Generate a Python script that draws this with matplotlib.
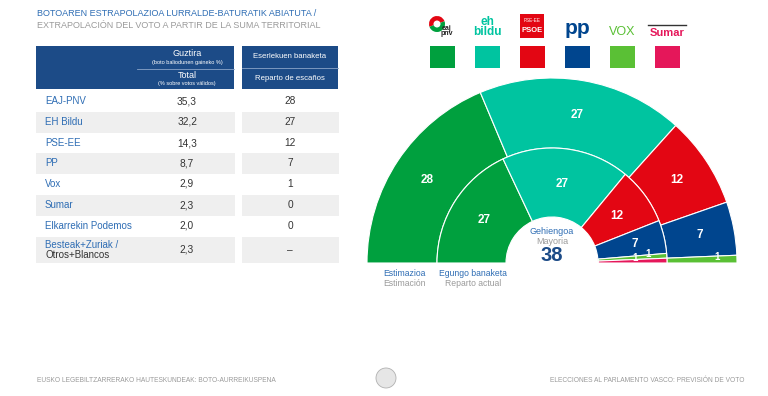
import numpy as np
import matplotlib.pyplot as plt
from matplotlib.patches import Wedge, Rectangle, Circle

plt.rcParams['font.family'] = ['Liberation Sans', 'DejaVu Sans']

# datos de la tabla
partidos = ['EAJ-PNV', 'EH Bildu', 'PSE-EE', 'PP', 'Vox', 'Sumar',
            'Elkarrekin Podemos', 'Besteak+Zuriak /']
votos = ['35,3', '32,2', '14,3', '8,7', '2,9', '2,3', '2,0', '2,3']
escanos_tabla = ['28', '27', '12', '7', '1', '0', '0', '–']

# hemiciclo: estimación (anillo exterior) y reparto actual (anillo interior)
grupos = ['EAJ-PNV', 'EH Bildu', 'PSE-EE', 'PP', 'Vox', 'Sumar']
colores = ['#00a03e', '#00c4a0', '#e30613', '#00458e', '#5ac035', '#e5175a']
estimacion = [28, 27, 12, 7, 1, 0]
actual = [27, 27, 12, 7, 1, 1]
mayoria = 38

AZUL = '#2e6db4'
AZUL_OSC = '#1c4b87'
GRIS = '#9a9a9a'
TXT = '#333333'
H = 396

fig = plt.figure(figsize=(7.68, 3.96), dpi=100)
ax = fig.add_axes([0, 0, 1, 1])
ax.set_xlim(0, 768)
ax.set_ylim(0, H)
ax.axis('off')


def Y(y):  # pasar de coordenadas de pixel (arriba=0) al eje
    return H - y


# titulo
ax.text(37, Y(13), 'BOTOAREN ESTRAPOLAZIOA LURRALDE-BATURATIK ABIATUTA /',
        color=AZUL, fontsize=6.5, va='center')
ax.text(37, Y(25), 'EXTRAPOLACIÓN DEL VOTO A PARTIR DE LA SUMA TERRITORIAL',
        color=GRIS, fontsize=6.5, va='center')

# cabecera de la tabla
ax.add_patch(Rectangle((36, Y(89)), 198, 43, color=AZUL_OSC, lw=0))
ax.add_patch(Rectangle((242, Y(89)), 96, 43, color=AZUL_OSC, lw=0))
ax.plot([137, 234], [Y(69), Y(69)], color='#8aa4c8', lw=0.6)
ax.plot([242, 338], [Y(68), Y(68)], color='#8aa4c8', lw=0.6)
ax.text(187, Y(53), 'Guztira', color='white', fontsize=6.5, ha='center', va='center')
ax.text(187, Y(62.5), '(boto baliodunen gaineko %)', color='white', fontsize=4, ha='center', va='center')
ax.text(187, Y(75), 'Total', color='white', fontsize=6.5, ha='center', va='center')
ax.text(187, Y(84), '(% sobre votos válidos)', color='white', fontsize=4, ha='center', va='center')
ax.text(290, Y(57), 'Eserlekuen banaketa', color='white', fontsize=5.6, ha='center', va='center')
ax.text(290, Y(78), 'Reparto de escaños', color='white', fontsize=5.6, ha='center', va='center')

# filas
filas_y = [101, 122, 143, 163, 184, 205, 226, 250]
for i, (p, v, e) in enumerate(zip(partidos, votos, escanos_tabla)):
    y = filas_y[i]
    alto = 26 if i == len(partidos) - 1 else 21
    if i % 2 == 1:
        ax.add_patch(Rectangle((36, Y(y + alto / 2)), 199, alto, color='#efefef', lw=0))
        ax.add_patch(Rectangle((242, Y(y + alto / 2)), 97, alto, color='#efefef', lw=0))
    if i == len(partidos) - 1:
        ax.text(45, Y(y - 5), p, color=AZUL, fontsize=7, va='center')
        ax.text(45, Y(y + 5), 'Otros+Blancos', color=TXT, fontsize=7, va='center')
    else:
        ax.text(45, Y(y), p, color=AZUL, fontsize=7, va='center')
    ax.text(187, Y(y), v, color=TXT, fontsize=7.3, ha='center', va='center')
    ax.text(290, Y(y), e, color=TXT, fontsize=7.3, ha='center', va='center')

# leyenda: logos aproximados y cuadros de color
lx = [442, 487, 532, 577, 622, 667]
for x, c in zip(lx, colores):
    ax.add_patch(Rectangle((x - 12.5, Y(68)), 25, 22, color=c, lw=0))
# eaj-pnv
ax.add_patch(Wedge((437, Y(24)), 8, 20, 200, color='#e30613', lw=0))
ax.add_patch(Wedge((437, Y(24)), 8, 200, 380, color='#00a03e', lw=0))
ax.add_patch(Circle((437, Y(24)), 3.5, color='white', lw=0))
ax.text(447, Y(31), 'eaj\npnv', color='#222222', fontsize=5, fontweight='bold',
        ha='center', va='center', linespacing=0.75)
ax.text(487, Y(27), 'eh\nbildu', color='#00c4a0', fontsize=8.5, fontweight='bold',
        ha='center', va='center', linespacing=0.8)
ax.add_patch(Rectangle((520, Y(38)), 24, 24, color='#e30613', lw=0))
ax.text(532, Y(21), 'PSE-EE', color='white', fontsize=3.3, ha='center', va='center')
ax.text(532, Y(30), 'PSOE', color='white', fontsize=5.5, fontweight='bold', ha='center', va='center')
ax.text(577, Y(29), 'pp', color='#00458e', fontsize=15, fontweight='bold', ha='center', va='center')
ax.text(622, Y(32), 'VOX', color='#5ac035', fontsize=9, ha='center', va='center')
ax.plot([648, 686], [Y(25), Y(25)], color='#333333', lw=1)
ax.text(667, Y(33), 'Sumar', color='#e5175a', fontsize=8, fontweight='bold', ha='center', va='center')

# hemiciclo
cx, cy = 552, Y(263)
r0, r1, r2 = 46, 115, 185
total = sum(actual)
anillos = [(estimacion, r2, r2 - r1, [150, 150, 150, 150, 165, 165]),
           (actual, r1, r1 - r0, [80, 80, 80, 85, 96, 83])]
for valores, radio, ancho, r_lab in anillos:
    acum = 0
    for j, (v, c) in enumerate(zip(valores, colores)):
        if v == 0:
            continue
        t2 = 180 - acum * 180 / total
        t1 = 180 - (acum + v) * 180 / total
        ax.add_patch(Wedge((cx, cy), radio, t1, t2, width=ancho, facecolor=c,
                           edgecolor='white', lw=0.8))
        ang = np.radians((t1 + t2) / 2)
        fs = 8.5 if v > 1 else 7
        ax.text(cx + r_lab[j] * np.cos(ang), cy + r_lab[j] * np.sin(ang) + (3 if v == 1 else 0),
                str(v), color='white', fontsize=fs, fontweight='bold', ha='center', va='center')
        acum += v

ax.text(cx, Y(232), 'Gehiengoa', color=AZUL, fontsize=6.5, ha='center', va='center')
ax.text(cx, Y(241), 'Mayoria', color=GRIS, fontsize=6.5, ha='center', va='center')
ax.text(cx, Y(255.5), str(mayoria), color=AZUL_OSC, fontsize=14.5, fontweight='bold',
        ha='center', va='center')

# etiquetas de los anillos
ax.text(404, Y(274), 'Estimazioa', color=AZUL, fontsize=6.2, ha='center', va='center')
ax.text(404, Y(284), 'Estimación', color=GRIS, fontsize=6.2, ha='center', va='center')
ax.text(473, Y(274), 'Egungo banaketa', color=AZUL, fontsize=6.2, ha='center', va='center')
ax.text(473, Y(284), 'Reparto actual', color=GRIS, fontsize=6.2, ha='center', va='center')

# pie
ax.text(37, Y(381), 'EUSKO LEGEBILTZARRERAKO HAUTESKUNDEAK: BOTO-AURREIKUSPENA',
        color=GRIS, fontsize=4.8, va='center')
ax.text(745, Y(381), 'ELECCIONES AL PARLAMENTO VASCO: PREVISIÓN DE VOTO',
        color=GRIS, fontsize=4.8, ha='right', va='center')
ax.add_patch(Circle((386, Y(378)), 10, facecolor='#e6e6e6', edgecolor='#b0b0b0', lw=0.6))

fig.savefig('out.png', dpi=100)
